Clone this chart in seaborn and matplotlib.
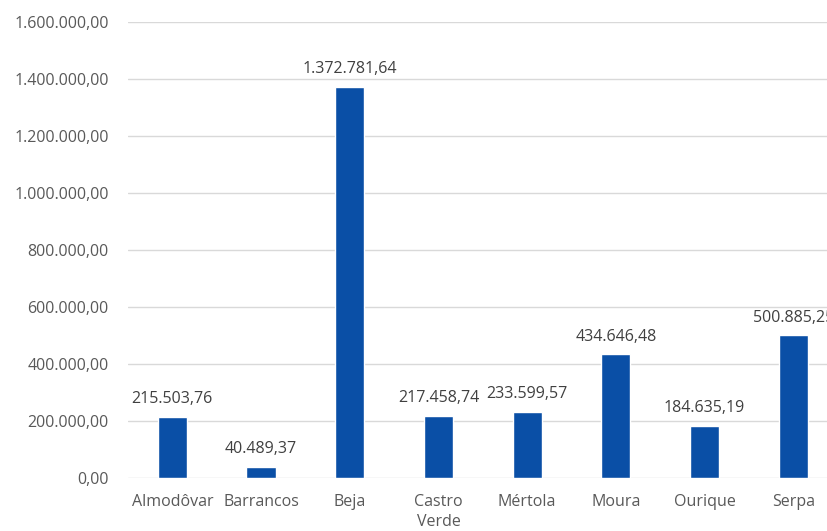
import matplotlib
matplotlib.use("Agg")
import matplotlib.pyplot as plt
import seaborn as sns
import pandas as pd
from matplotlib.ticker import FuncFormatter, MultipleLocator

categories = ["Almodôvar", "Barrancos", "Beja", "Castro\nVerde", "Mértola",
              "Moura", "Ourique", "Serpa"]
values = [215503.76, 40489.37, 1372781.64, 217458.74, 233599.57,
          434646.48, 184635.19, 500885.25]

def pt_fmt(v):
    s = f"{v:,.2f}"
    return s.replace(",", "X").replace(".", ",").replace("X", ".")

sns.set_theme(style="white")
plt.rcParams["font.family"] = ["Open Sans", "DejaVu Sans"]

df = pd.DataFrame({"Concelho": categories, "Valor": values})

fig = plt.figure(figsize=(8.28, 5.31), dpi=100)
fig.patch.set_facecolor("white")
ax = fig.add_axes([128 / 828, 0.0993, 709.6 / 828, 0.8598])

sns.barplot(data=df, x="Concelho", y="Valor", color="#0A4FA6", width=0.33,
            saturation=1, ax=ax, zorder=3)

ax.set_ylim(0, 1600000)
ax.set_xlim(-0.5, len(categories) - 0.5)
ax.yaxis.set_major_locator(MultipleLocator(200000))
ax.yaxis.set_major_formatter(FuncFormatter(lambda v, p: pt_fmt(v)))
ax.grid(axis="y", color="#d9d9d9", linewidth=1, zorder=0)
ax.grid(axis="x", visible=False)
for s in ax.spines.values():
    s.set_visible(False)

ax.set_xlabel("")
ax.set_ylabel("")
ax.tick_params(axis="y", length=0, pad=14, labelsize=11.5, labelcolor="#595959")
ax.tick_params(axis="x", length=0, pad=11, labelsize=11.5, labelcolor="#595959")
for lab in ax.get_xticklabels():
    lab.set_linespacing(1.35)

ax.bar_label(ax.containers[0], labels=[pt_fmt(v) for v in values], padding=7,
             fontsize=11.5, color="#404040", clip_on=False)

fig.savefig("out.png", dpi=100, facecolor="white")
